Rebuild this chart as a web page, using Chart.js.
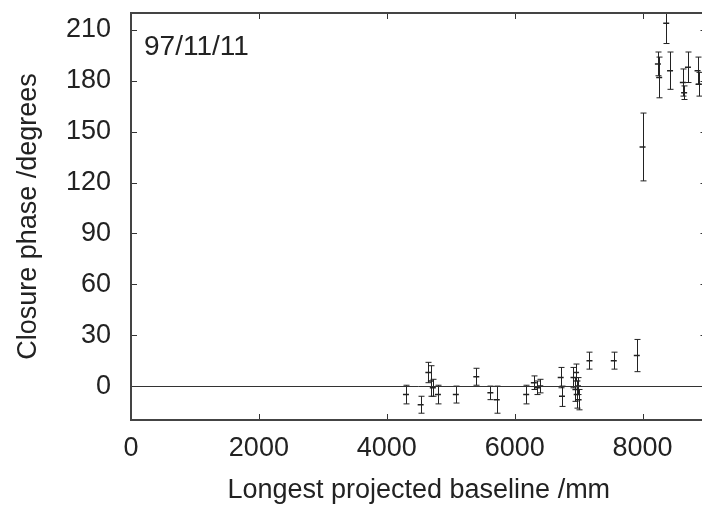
<!DOCTYPE html>
<html>
<head>
<meta charset="utf-8">
<script src="https://cdn.jsdelivr.net/npm/chart.js@4"></script>
<style>
  html, body { margin: 0; padding: 0; background: #fff; overflow: hidden; }
  #wrap { width: 712px; height: 507px; }
</style>
</head>
<body>
<div id="wrap"><canvas id="closureChart" width="712" height="507"></canvas></div>
<script>
// longest projected baseline (mm), closure phase (deg) and its error
const baseline = [4300, 4530, 4650, 4690, 4720, 4800, 5080, 5400, 5620, 5720,
                  6180, 6300, 6350, 6400, 6720, 6740, 6920, 6950, 6960, 6970,
                  6990, 7000, 7170, 7550, 7910, 8000, 8240, 8260, 8370, 8430,
                  8630, 8650, 8710, 8860, 8880];
const phase = [-5, -11, 8, 3, -1, -5, -5, 5.5, -4, -8,
               -5, 2, -1, 0, 5, -6, 5, -2, 8, -5,
               0, -8, 15, 15, 18, 141, 190, 182, 214, 186,
               179, 173, 188, 186, 178];
const phaseErr = [5.5, 5, 6, 9, 5, 5.5, 5, 5, 4, 8,
                  5.5, 4, 4, 4, 6, 6, 6, 7, 5, 8,
                  5, 6, 5, 5, 9.5, 20, 7, 12, 12, 11,
                  8, 4, 9, 8, 7];
const xTicks = [0, 2000, 4000, 6000, 8000];
const yTicks = [0, 30, 60, 90, 120, 150, 180, 210];
const dateLabel = '97/11/11';

const ink = '#222';
const fontFamily = '"Liberation Sans", Arial, Helvetica, sans-serif';

const errorBars = {
    id: 'errorBars',
    afterDatasetsDraw(chart) {
        const { ctx, chartArea, scales: { x, y } } = chart;
        ctx.save();
        ctx.beginPath();
        ctx.rect(chartArea.left, chartArea.top, chartArea.width, chartArea.height);
        ctx.clip();
        ctx.strokeStyle = ink;
        ctx.lineWidth = 1;
        baseline.forEach((b, i) => {
            const px = Math.round(x.getPixelForValue(b)) + 0.5;
            const top = y.getPixelForValue(phase[i] + phaseErr[i]);
            const bot = y.getPixelForValue(phase[i] - phaseErr[i]);
            ctx.beginPath();
            ctx.moveTo(px, top);
            ctx.lineTo(px, bot);
            ctx.moveTo(px - 3, top);
            ctx.lineTo(px + 3, top);
            ctx.moveTo(px - 3, bot);
            ctx.lineTo(px + 3, bot);
            ctx.stroke();
        });
        ctx.restore();
    }
};

const frame = {
    id: 'frame',
    afterDraw(chart) {
        const { ctx, chartArea: a, scales: { x, y } } = chart;
        ctx.save();
        ctx.strokeStyle = '#333';
        ctx.lineWidth = 1;
        // zero line
        const y0 = Math.round(y.getPixelForValue(0)) + 0.5;
        ctx.beginPath();
        ctx.moveTo(a.left, y0);
        ctx.lineTo(a.right, y0);
        ctx.stroke();
        // inward ticks
        const tl = 6;
        ctx.beginPath();
        xTicks.forEach(v => {
            const px = Math.round(x.getPixelForValue(v)) + 0.5;
            ctx.moveTo(px, a.bottom);
            ctx.lineTo(px, a.bottom - tl);
            ctx.moveTo(px, a.top);
            ctx.lineTo(px, a.top + tl);
        });
        yTicks.forEach(v => {
            const py = Math.round(y.getPixelForValue(v)) + 0.5;
            ctx.moveTo(a.left, py);
            ctx.lineTo(a.left + tl, py);
            ctx.moveTo(a.right, py);
            ctx.lineTo(a.right - tl, py);
        });
        ctx.stroke();
        // box
        ctx.lineWidth = 2;
        ctx.strokeStyle = '#444';
        ctx.strokeRect(a.left, a.top, a.width, a.height);
        // date
        ctx.fillStyle = ink;
        ctx.font = '28px ' + fontFamily;
        ctx.textBaseline = 'alphabetic';
        ctx.fillText(dateLabel, a.left + 13, a.top + 42);
        ctx.restore();
    }
};

new Chart(document.getElementById('closureChart'), {
    type: 'scatter',
    data: {
        datasets: [{
            data: baseline.map((b, i) => ({ x: b, y: phase[i] })),
            pointStyle: 'line',
            pointRadius: 3,
            borderColor: ink,
            backgroundColor: ink,
            borderWidth: 1.5
        }]
    },
    options: {
        responsive: false,
        devicePixelRatio: 1,
        animation: false,
        layout: { padding: { top: 13, right: 5, left: 0, bottom: 0 } },
        plugins: { legend: { display: false }, tooltip: { enabled: false } },
        scales: {
            x: {
                type: 'linear',
                min: 0,
                max: 9000,
                afterBuildTicks: s => { s.ticks = xTicks.map(v => ({ value: v })); },
                afterFit: s => {
                    s.height = 87;
                    s.paddingLeft = 0;
                    s.paddingRight = 0;
                },
                grid: { display: false, drawTicks: false },
                border: { display: false },
                ticks: {
                    color: ink,
                    font: { family: fontFamily, size: 27 },
                    padding: 12,
                    maxRotation: 0,
                    autoSkip: false,
                    callback: v => String(v)
                },
                title: {
                    display: true,
                    text: 'Longest projected baseline /mm',
                    color: ink,
                    font: { family: fontFamily, size: 27 },
                    padding: { top: 0, bottom: 0 }
                }
            },
            y: {
                type: 'linear',
                min: -20,
                max: 220,
                afterBuildTicks: s => { s.ticks = yTicks.map(v => ({ value: v })); },
                afterFit: s => {
                    s.width = 131;
                    s.paddingTop = 0;
                    s.paddingBottom = 0;
                },
                grid: { display: false, drawTicks: false },
                border: { display: false },
                ticks: {
                    color: ink,
                    font: { family: fontFamily, size: 27 },
                    padding: 20,
                    callback: v => String(v)
                },
                title: {
                    display: true,
                    text: 'Closure phase /degrees',
                    color: ink,
                    font: { family: fontFamily, size: 27 },
                    padding: { top: 12, bottom: 0 }
                }
            }
        }
    },
    plugins: [errorBars, frame]
});
</script>
</body>
</html>
